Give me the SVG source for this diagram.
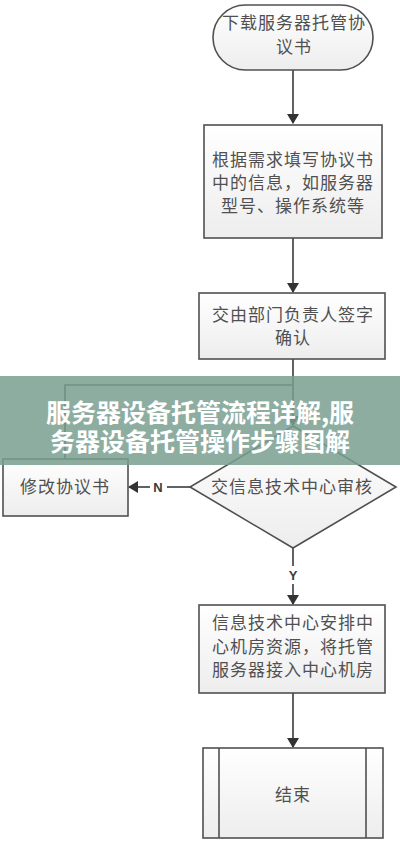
<svg xmlns="http://www.w3.org/2000/svg" width="400" height="843" viewBox="0 0 400 843">
<style>
.n{fill:url(#g);stroke:#505050;stroke-width:1.6}
.t{font-family:"Noto Sans CJK SC","Noto Sans",sans-serif;font-size:17px;letter-spacing:1px;fill:#505050;text-anchor:middle}
.c{fill:none;stroke:#3a3a3a;stroke-width:1.6}
.l{font-family:"Liberation Sans",Arial,sans-serif;font-size:13px;font-weight:bold;fill:#3a3a3a;text-anchor:middle}
.b{font-family:"Noto Sans CJK SC","Noto Sans",sans-serif;font-size:25px;font-weight:bold;fill:#ffffff;text-anchor:middle}
</style>
<defs>
<linearGradient id="g" x1="0" y1="0" x2="0" y2="1">
<stop offset="0" stop-color="#ffffff"/>
<stop offset="1" stop-color="#ededed"/>
</linearGradient>
<marker id="a" markerWidth="10" markerHeight="12" refX="9" refY="6" orient="auto" markerUnits="userSpaceOnUse">
<path d="M0,0 L10,6 L0,12 Z" fill="#333"/>
</marker>
</defs>
<rect width="400" height="843" fill="#ffffff"/>
<g id="connectors">
<path class="c" d="M293,70 V123" marker-end="url(#a)"/>
<path class="c" d="M293,238 V292" marker-end="url(#a)"/>
<path class="c" d="M293,359 V425" marker-end="url(#a)"/>
<path class="c" d="M65,459 V385 H293"/>
<path class="c" d="M190,487 H167"/>
<path class="c" d="M150,487 H129" marker-end="url(#a)"/>
<text class="l" x="158" y="492">N</text>
<path class="c" d="M293,548 V566"/>
<path class="c" d="M293,584 V604" marker-end="url(#a)"/>
<text class="l" x="293" y="580">Y</text>
<path class="c" d="M293,693 V747" marker-end="url(#a)"/>
</g>
<g id="start">
<rect class="n" x="213" y="5" width="160" height="65" rx="32.5"/>
<text class="t" x="294" y="29">下载服务器托管协</text>
<text class="t" x="294" y="53">议书</text>
</g>
<g id="fill-info">
<rect class="n" x="204" y="125" width="178" height="113"/>
<text class="t" x="293" y="166">根据需求填写协议书</text>
<text class="t" x="293" y="189">中的信息，如服务器</text>
<text class="t" x="293" y="212">型号、操作系统等</text>
</g>
<g id="sign">
<rect class="n" x="199" y="293" width="186" height="66"/>
<text class="t" x="293" y="321">交由部门负责人签字</text>
<text class="t" x="293" y="344">确认</text>
</g>
<g id="review">
<path class="n" d="M293,426 L396,487 L293,548 L190,487 Z"/>
<text class="t" x="292" y="493">交信息技术中心审核</text>
</g>
<g id="modify">
<rect class="n" x="3" y="459" width="125" height="57"/>
<text class="t" x="65" y="493">修改协议书</text>
</g>
<g id="arrange">
<rect class="n" x="199" y="605" width="186" height="88"/>
<text class="t" x="293" y="629">信息技术中心安排中</text>
<text class="t" x="293" y="653">心机房资源，将托管</text>
<text class="t" x="293" y="676">服务器接入中心机房</text>
</g>
<g id="end">
<rect class="n" x="203" y="748" width="180" height="90"/>
<path class="c" d="M219,748 V838 M366,748 V838" style="stroke:#505050"/>
<text class="t" x="293" y="801">结束</text>
</g>
<g id="banner">
<rect x="0" y="376" width="400" height="89" fill="#7a9f90" opacity="0.85"/>
<text class="b" x="200" y="422">服务器设备托管流程详解,服</text>
<text class="b" x="200" y="451">务器设备托管操作步骤图解</text>
</g>
</svg>
